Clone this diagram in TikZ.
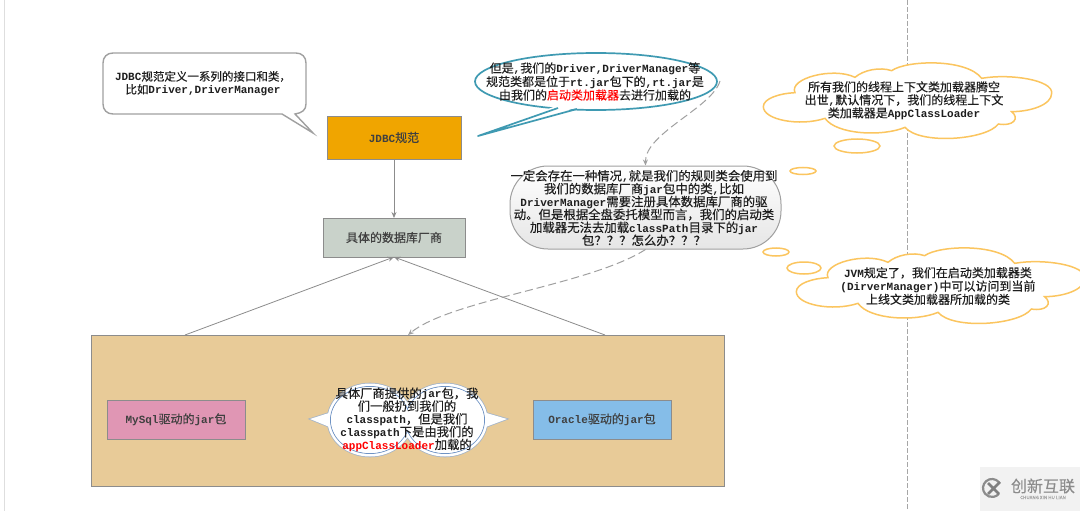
\documentclass[tikz,border=0pt]{standalone}
\usepackage{fontspec}
\setmainfont{Noto Sans CJK SC}[FakeBold=0.25]
\newfontfamily\latinf{Liberation Mono}[Scale=1.0]
\usetikzlibrary{arrows.meta}
\newcommand\M[1]{{\latinf\bfseries\fontsize{11}{13}\selectfont #1}}
\newcommand\cloudpath{(135,128) .. controls (115,85) and (250,50) .. (315,82)
 .. controls (340,60) and (390,50) .. (425,62)
 .. controls (470,30) and (650,25) .. (695,85)
 .. controls (780,70) and (910,90) .. (905,130)
 .. controls (905,165) and (840,185) .. (785,185)
 .. controls (810,205) and (790,230) .. (745,222)
 .. controls (710,270) and (510,285) .. (465,232)
 .. controls (400,260) and (260,255) .. (225,205)
 .. controls (150,230) and (40,210) .. (40,170)
 .. controls (40,145) and (90,130) .. (135,128) -- cycle}
\definecolor{linegrey}{HTML}{8C8C8C}
\definecolor{calloutgrey}{HTML}{A0A0A0}
\definecolor{tealline}{HTML}{3F9AB2}
\definecolor{cloudline}{HTML}{FBC55F}
\definecolor{ink}{HTML}{1E1E1E}
\definecolor{bubbleout}{HTML}{A4B4C8}
\definecolor{bubblein}{HTML}{6F93C4}
\tikzset{
 box/.style={draw=linegrey,line width=.8pt,inner sep=0pt,outer sep=0pt,text=ink!85,font=\fontsize{12}{13}\selectfont},
 txt/.style={align=center,inner sep=0pt,text=ink,font=\fontsize{12}{13.2}\selectfont},
 arrowline/.style={draw=linegrey,line width=.8pt,-{Stealth[length=6pt,width=5pt]}},
 dashline/.style={draw=calloutgrey,line width=1pt,dash pattern=on 8pt off 4pt,-{Stealth[length=6pt,width=5pt]}},
 puff/.style={draw=cloudline,line width=1.5pt,fill=white},
 tealshape/.style={draw=tealline,line width=1.7pt,fill=white},
}
\begin{document}
\begin{tikzpicture}[x=1pt,y=-1pt]
\clip (0,0) rectangle (1080,511);
\fill[white] (0,0) rectangle (1080,511);
% page guides
\draw[draw=black!13,line width=1pt] (4.5,0) -- (4.5,511);
\draw[draw=black!35,line width=.8pt,dash pattern=on 5pt off 2pt] (907.5,0) -- (907.5,511);
% boxes
\node[box,minimum width=633pt,minimum height=151pt,fill={rgb,255:red,232;green,203;blue,152}] (tan) at (407.5,410.5) {};
\node[box,fill={rgb,255:red,240;green,165;blue,0},minimum width=134pt,minimum height=43pt] (jdbc) at (394,137.5) {\M{JDBC}规范};
\node[box,fill={rgb,255:red,201;green,210;blue,202},minimum width=142pt,minimum height=39pt] (vendor) at (394,237.5) {具体的数据库厂商};
\node[box,fill={rgb,255:red,224;green,150;blue,180},minimum width=138pt,minimum height=39pt] (mysql) at (176,419.5) {\M{MySql}驱动的\M{jar}包};
\node[box,fill={rgb,255:red,133;green,189;blue,232},minimum width=138pt,minimum height=39pt] (oracle) at (602,419.5) {\M{Oracle}驱动的\M{jar}包};
\coordinate (tanL) at (185,335);
\coordinate (tanR) at (605,335);
\coordinate (tanIn) at (408,335);
\coordinate (vendorIn) at (394,257);
\draw[arrowline] (jdbc.south) -- (vendor.north);
\draw[arrowline] (tanL) -- (vendorIn);
\draw[arrowline] (tanR) -- (vendorIn);
% speech callout
\draw[draw=calloutgrey,line width=1.4pt,fill=white,line join=miter]
 (113,53) -- (296,53) .. controls (302,53) and (306,57) .. (306,63) -- (306,104)
 .. controls (306,110) and (302,113) .. (295,114) -- (313,133) -- (282,114) -- (113,114)
 .. controls (107,114) and (103,110) .. (103,104) -- (103,63)
 .. controls (103,57) and (107,53) .. (113,53) -- cycle;
\node[txt,font=\fontsize{11.5}{13}\selectfont] (specnote) at (203,83.5) {\M{JDBC}规范定义一系列的接口和类，\\比如\M{Driver,DriverManager}};
% teal callout
\draw[tealshape] (596,81.5) ellipse [x radius=121,y radius=28.5];
\fill[white] (556,106) -- (478,136) -- (579,107) -- cycle;
\draw[draw=tealline,line width=1.7pt,line join=round] (558,108) -- (478,136) -- (577,109);
\node[txt,font=\fontsize{12}{13.5}\selectfont] (bootnote) at (595,81.5) {但是\M{,}我们的\M{Driver,DriverManager}等\\规范类都是位于\M{rt.jar}包下的\M{,rt.jar}是\\由我们的\textcolor{red}{启动类加载器}去进行加载的};
% grey note
\node[draw=calloutgrey,line width=1pt,rounded corners=38pt,top color=white,bottom color=black!10,minimum width=271pt,minimum height=83pt,inner sep=0pt] (question) at (645.5,207.5) {};
\node[txt,font=\fontsize{12.4}{12.9}\selectfont] (questiontext) at (644,208) {一定会存在一种情况\M{,}就是我们的规则类会使用到\\我们的数据库厂商\M{jar}包中的类\M{,}比如\\\M{DriverManager}需要注册具体数据库厂商的驱\\动。但是根据全盘委托模型而言，我们的启动类\\加载器无法去加载\M{classPath}目录下的\M{jar}\\包？？？怎么办？？？};
% dashed connectors
\coordinate (tealEnd) at (720,81);
\draw[dashline] (tealEnd) .. controls (712,108) and (645,133) .. (question.north);
\draw[dashline] (question.south) .. controls (590,285) and (450,300) .. (tanIn);
% clouds
\begin{scope}[shift={(750pt,-50pt)},x=.33333pt,y=-.33333pt]
\draw[puff] \cloudpath;
\end{scope}
\begin{scope}[shift={(783pt,-235pt)},x=.33333pt,y=-.33333pt]
\draw[puff] \cloudpath;
\end{scope}
\draw[puff] (857,146) ellipse [x radius=23,y radius=7];
\draw[puff] (803,171) ellipse [x radius=13,y radius=3.5];
\draw[puff] (776,252) ellipse [x radius=13,y radius=4];
\draw[puff] (804,268) ellipse [x radius=17,y radius=6];
\node[txt,font=\fontsize{12}{13}\selectfont] (threadnote) at (904,100.5) {所有我们的线程上下文类加载器腾空\\出世\M{,}默认情况下，我们的线程上下文\\类加载器是\M{AppClassLoader}};
\node[txt,font=\fontsize{12}{13.3}\selectfont] (jvmnote) at (938,286) {\M{JVM}规定了，我们在启动类加载器类\\\M{(DirverManager)}中可以访问到当前\\上线文类加载器所加载的类};
% double bubble
\path[draw=bubbleout,line width=1.6pt]
 (370,420) ellipse [x radius=42.5,y radius=36.5]
 (445,420) ellipse [x radius=42.5,y radius=36.5]
 (332,412) -- (310,419) -- (332,428) -- cycle
 (483,412) -- (507,419) -- (483,428) -- cycle;
\fill[white]
 (370,420) ellipse [x radius=42.5,y radius=36.5]
 (445,420) ellipse [x radius=42.5,y radius=36.5];
\fill[white] (332,412) -- (310,419) -- (332,428) -- cycle (483,412) -- (507,419) -- (483,428) -- cycle;
\draw[draw=bubblein,line width=.9pt]
 (370,420) ellipse [x radius=39.5,y radius=33.5]
 (445,420) ellipse [x radius=39.5,y radius=33.5];
\fill[white]
 (370,420) ellipse [x radius=39,y radius=33]
 (445,420) ellipse [x radius=39,y radius=33];
\node[txt,font=\fontsize{12.3}{12.8}\selectfont] (jarnote) at (407,419.5) {具体厂商提供的\M{jar}包，我\\们一般扔到我们的\\\M{classpath}，但是我们\\\M{classpath}下是由我们的\\\textcolor{red}{\M{appClassLoader}}加载的};
% watermark
\fill[black!5] (980,467) rectangle (1080,511);
\draw[draw=black!45,line width=2.2pt] (998.9,482.2) arc[start angle=40,end angle=320,radius=9pt];
\node[inner sep=0pt,text=black!45,font=\fontsize{16}{16}\selectfont] (wmcn) at (1043,486) {创新互联};
\node[inner sep=0pt,text=black!35,font=\fontsize{4.6}{5}\selectfont] (wmen) at (1043,497.5) {CHUANG XIN HU LIAN};
\draw[draw=black!50,line width=2.6pt] (988,483) -- (999,494) (988,494) -- (1000,482);
\end{tikzpicture}
\end{document}
